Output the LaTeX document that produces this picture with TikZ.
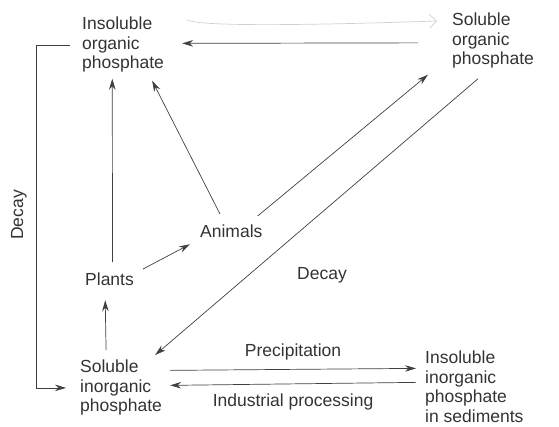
\documentclass[tikz,border=0pt]{standalone}
\usepackage{fontspec}
\setmainfont{Liberation Sans}
\usetikzlibrary{arrows.meta}
\tikzset{
  lbl/.style={inner sep=0pt, align=left, anchor=north west, text=black!80,
    font=\fontsize{17.5}{19.5}\selectfont},
  arr/.style={-{Stealth[length=11pt,width=6.5pt]}, line width=0.7pt, draw=black!75},
}
\begin{document}
\begin{tikzpicture}[x=1pt, y=-1pt]
  \useasboundingbox (0,0) rectangle (559,426);
  % fosfatos
  \node[lbl] (iop) at (82,17) {Insoluble\\organic\\phosphate};
  \node[lbl] (sop) at (452,13) {Soluble\\organic\\phosphate};
  \node[lbl] (sip) at (80,360) {Soluble\\inorganic\\phosphate};
  \node[lbl] (iips) at (425,351) {Insoluble\\inorganic\\phosphate\\in sediments};
  % seres vivos
  \node[lbl] (plants) at (85,273) {Plants};
  \node[lbl] (animals) at (200,225) {Animals};
  % etiquetas
  \node[lbl, anchor=center, rotate=90] (decayl) at (19,215) {Decay};
  \node[lbl, anchor=center] (decay) at (322,275) {Decay};
  % flechas
  \draw[arr] ([xshift=-12pt]iop.west) -- ++(-34,0) |- ([xshift=-14pt]sip.west);
  \draw[arr] ([shift={(-34pt,-2pt)}]sop.west) -- ([shift={(18pt,1.5pt)}]iop.east);
  \draw[black!18, line width=0.7pt, -{Straight Barb[length=7pt]}]
    ([shift={(23pt,-3pt)}]iop.north east) .. controls +(15,7) and +(-120,4) .. ([shift={(-15pt,-8pt)}]sop.north west);
  \draw[arr] ([shift={(3pt,11pt)}]plants.north) -- ([shift={(-10.8pt,-6pt)}]iop.south);
  \draw[arr] ([shift={(-15pt,10pt)}]sip.north) -- ([shift={(-4.3pt,-14pt)}]plants.south);
  \draw[arr] ([shift={(9pt,4pt)}]plants.north east) -- ([shift={(-10pt,-6pt)}]animals.south west);
  \draw[arr] ([shift={(20pt,11pt)}]animals.north west) -- ([shift={(-12pt,-8pt)}]iop.south east);
  \draw[arr] ([shift={(-5pt,9pt)}]animals.north east) -- ([shift={(-24pt,-6pt)}]sop.south west);
  \draw[arr] ([shift={(-15pt,-10pt)}]sop.south) -- ([shift={(-7pt,5pt)}]sip.north east);
  \draw[arr] ([shift={(8pt,17.5pt)}]sip.east) -- ([shift={(-9pt,18.5pt)}]iips.west)
    node[lbl, midway, anchor=south, yshift=9pt] (precip) {Precipitation};
  \draw[arr] ([shift={(-9pt,4.5pt)}]iips.west) -- ([shift={(8pt,2.5pt)}]sip.east)
    node[lbl, midway, anchor=north, yshift=-10pt] (indus) {Industrial processing};
\end{tikzpicture}
\end{document}
